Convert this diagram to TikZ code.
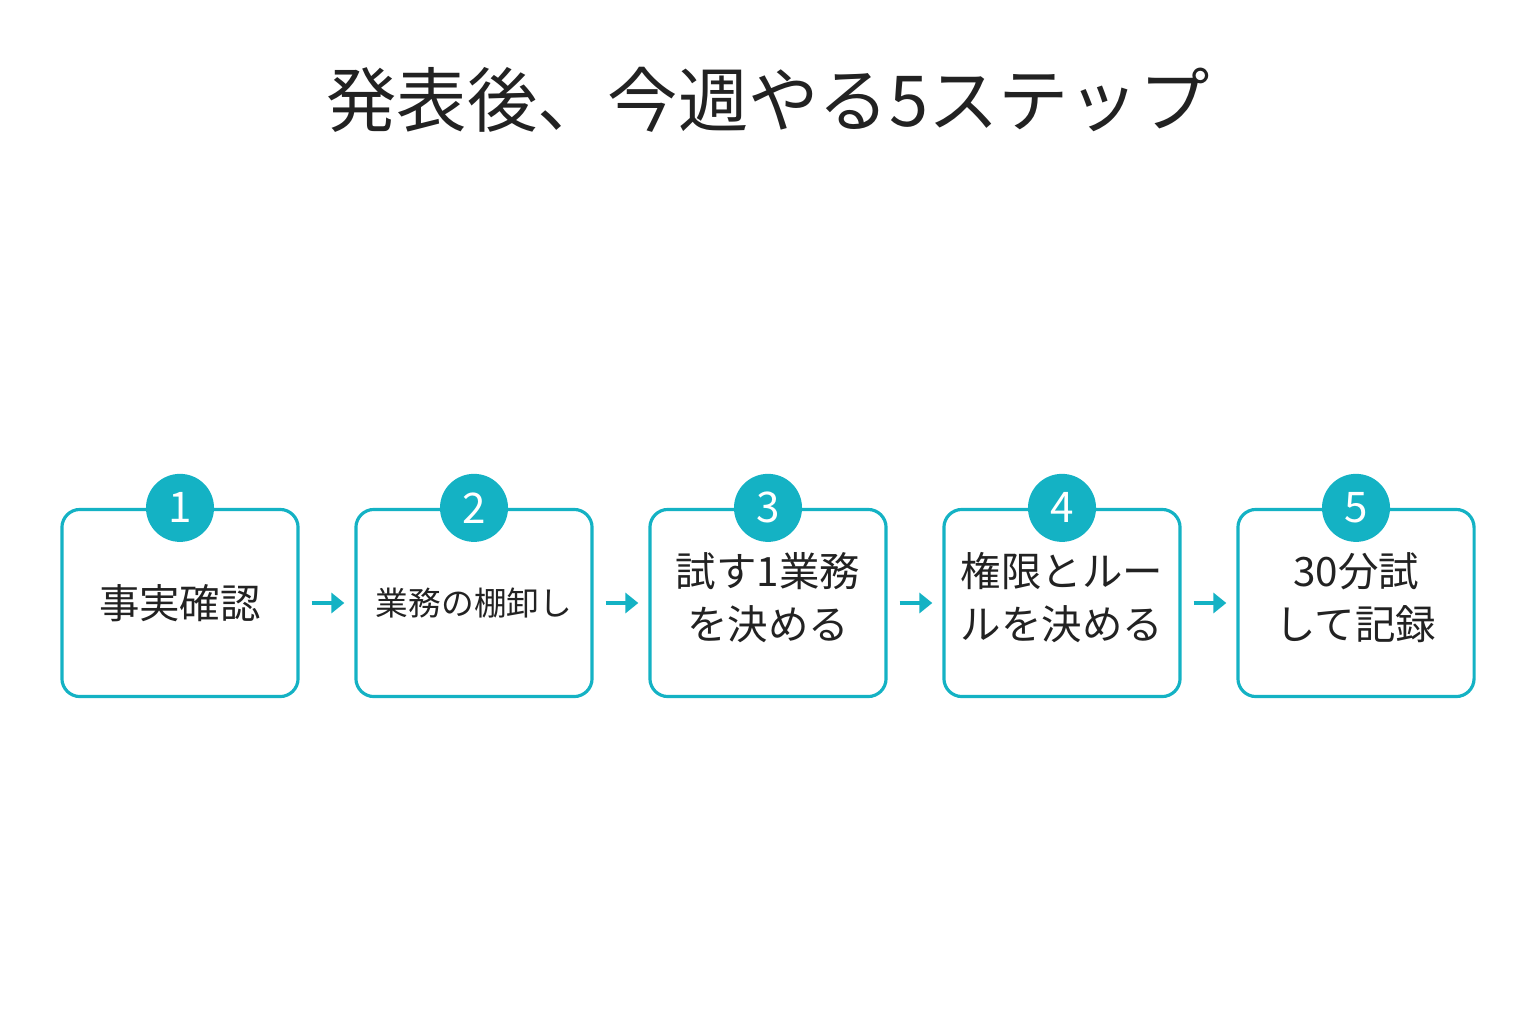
\documentclass[tikz,border=0pt]{standalone}
\usepackage{fontspec}
\setmainfont{Noto Sans CJK JP}
\usetikzlibrary{arrows.meta}
\definecolor{stepteal}{HTML}{14B2C4}
\definecolor{ink}{HTML}{222222}
\tikzset{
  stepbox/.style={draw=stepteal, line width=0.9pt, rounded corners=0.18cm, minimum width=2.36cm, minimum height=1.87cm, inner sep=0pt, text width=2.2cm, align=center, text=ink, font=\fontsize{11.5}{15}\selectfont, fill=white},
  num/.style={circle, fill=stepteal, minimum size=0.68cm, inner sep=0pt, text=white, font=\fontsize{12}{14}\selectfont},
  flow/.style={draw=stepteal, line width=1.2pt, -{Triangle[length=0.13cm,width=0.2cm]}, shorten <=0.12cm, shorten >=0.1cm}
}
\begin{document}
\begin{tikzpicture}[x=0.01cm,y=-0.01cm]
                \useasboundingbox (0,0) rectangle (1536,1024);
                \node[text=ink, font=\fontsize{20}{24}\selectfont] (title) at (768,100) {発表後、今週やる5ステップ};

                \node[stepbox] (s1) at (180,603) {\raisebox{-0.1cm}{事実確認}};
                \node[stepbox, font=\fontsize{9.3}{12}\selectfont] (s2) at (474,603) {\raisebox{-0.1cm}{業務の棚卸し}};
                \node[stepbox] (s3) at (768,603) {\\[-0.3cm]試す1業務\\を決める};
                \node[stepbox] (s4) at (1062,603) {\\[-0.3cm]権限とルー\\ルを決める};
                \node[stepbox] (s5) at (1356,603) {\\[-0.3cm]30分試\\して記録};

                \node[num] (n1) at (s1.north) {1};
                \node[num] (n2) at (s2.north) {2};
                \node[num] (n3) at (s3.north) {3};
                \node[num] (n4) at (s4.north) {4};
                \node[num] (n5) at (s5.north) {5};

                \draw[flow] (s1) -- (s2);
                \draw[flow] (s2) -- (s3);
                \draw[flow] (s3) -- (s4);
                \draw[flow] (s4) -- (s5);
            \end{tikzpicture}
\end{document}
